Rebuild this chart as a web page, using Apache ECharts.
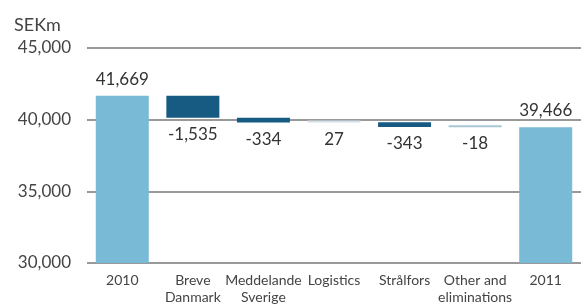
<!DOCTYPE html>
<html>
<head>
<meta charset="utf-8">
<script src="https://cdn.jsdelivr.net/npm/echarts@6/dist/echarts.min.js"></script>
<style>
  html, body { margin: 0; padding: 0; background: #fff; }
  #chart { width: 581px; height: 306px; }
</style>
</head>
<body>
<div id="chart"></div>
<script>
'use strict';
// SEKm bridge 2010 -> 2011
let categories = ['2010', 'Breve\nDanmark', 'Meddelande\nSverige', 'Logistics', 'Strålfors', 'Other and\neliminations', '2011'];
let changes = [41669, -1535, -334, 27, -343, -18, 39466];
let isTotal = [true, false, false, false, false, false, true];
let yTicks = [30000, 35000, 40000, 45000];

let fmt = (v) => {
    let s = Math.abs(v).toString().replace(/\B(?=(\d{3})+(?!\d))/g, ',');
    return (v < 0 ? '-' : '') + s;
};

// build invisible base + visible step
let base = [];
let step = [];
let running = 0;
changes.forEach((v, i) => {
    if (isTotal[i]) {
        base.push(0);
        step.push({ value: v, itemStyle: { color: '#79bad6' }, label: { position: 'top', distance: 8 } });
        running = v;
    } else if (v < 0) {
        running += v;
        base.push(running);
        step.push({ value: -v, itemStyle: { color: i === 5 ? '#a9c6d6' : '#175b82' } });
    } else {
        base.push(running);
        step.push({ value: v, itemStyle: { color: '#d3e0e8' } });
        running += v;
    }
});

let instance = echarts.init(document.getElementById('chart'));
instance.setOption({
    animation: false,
    textStyle: { fontFamily: 'Lato' },
    title: {
        text: 'SEKm',
        left: 9,
        top: 11,
        textStyle: { fontSize: 18, fontWeight: 'normal', color: '#444', fontFamily: 'Lato' }
    },
    grid: { left: 87, right: -5, top: 48, bottom: 38 },
    xAxis: {
        type: 'category',
        data: categories,
        axisLine: { show: false },
        axisTick: { show: false },
        axisLabel: { interval: 0, color: '#444', fontSize: 14, margin: 9, lineHeight: 17 }
    },
    yAxis: {
        type: 'value',
        min: yTicks[0],
        max: yTicks[yTicks.length - 1],
        interval: 5000,
        axisLine: { show: false },
        axisTick: { show: false },
        axisLabel: { color: '#444', fontSize: 17, margin: 16, formatter: (v) => fmt(v) },
        splitLine: { lineStyle: { color: '#999', width: 2 } }
    },
    series: [
        {
            type: 'bar',
            stack: 'w',
            data: base,
            itemStyle: { color: 'transparent' },
            silent: true,
            barWidth: 53
        },
        {
            type: 'bar',
            stack: 'w',
            data: step,
            barWidth: 53,
            barMinHeight: 2,
            label: {
                show: true,
                position: 'bottom',
                distance: 8,
                color: '#333',
                fontSize: 17,
                formatter: (p) => fmt(changes[p.dataIndex])
            }
        }
    ]
});
</script>
</body>
</html>
